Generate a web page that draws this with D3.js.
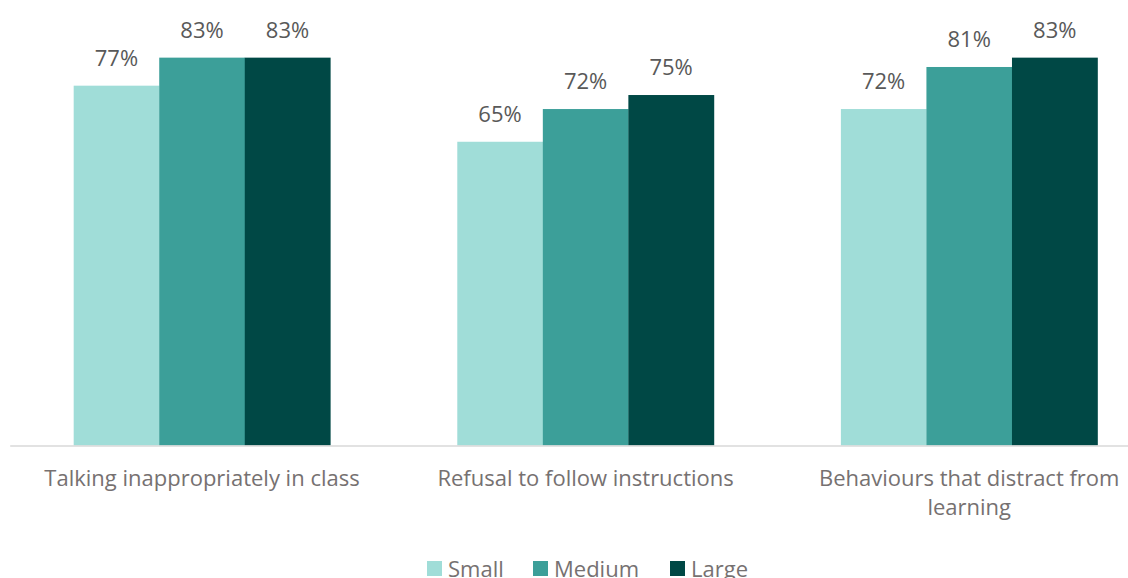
<!DOCTYPE html>
<html>
<head>
<meta charset="utf-8">
<script src="https://cdn.jsdelivr.net/npm/d3@7"></script>
<style>
  html, body { margin: 0; padding: 0; background: #fff; overflow: hidden; }
  svg { display: block; }
  text { font-family: "Open Sans", Lato, sans-serif; }
</style>
</head>
<body>
<svg id="chart" width="1128" height="578"></svg>
<script>
// Share of schools reporting each behaviour, by school size
const categories = [
  ["Talking inappropriately in class"],
  ["Refusal to follow instructions"],
  ["Behaviours that distract from", "learning"]
];
const seriesNames = ["Small", "Medium", "Large"];
const small  = [77, 65, 72];
const medium = [83, 72, 81];
const large  = [83, 75, 83];
const colors = ["#a0ddd8", "#3c9f99", "#004845"];

const svg = d3.select("#chart");
const baseY = 445.5;
const catKeys = categories.map(c => c.join(" "));
const values = [small, medium, large];

const x0 = d3.scaleBand()
  .domain(catKeys)
  .range([10.2, 1161])
  .paddingInner(0.331)
  .paddingOuter(0.1655);

const x1 = d3.scaleBand()
  .domain(seriesNames)
  .range([0, x0.bandwidth()]);

const y = d3.scaleLinear()
  .domain([0, 100])
  .range([baseY, baseY - 467.3]);

// Bars
const groups = svg.append("g").selectAll("g")
  .data(catKeys)
  .join("g")
  .attr("transform", d => `translate(${x0(d)},0)`);

groups.selectAll("rect")
  .data((d, i) => seriesNames.map((s, j) => ({ s, v: values[j][i], j })))
  .join("rect")
  .attr("x", d => x1(d.s))
  .attr("width", x1.bandwidth() + 0.3)
  .attr("y", d => y(d.v))
  .attr("height", d => y(0) - y(d.v))
  .attr("fill", d => colors[d.j]);

// Value labels
groups.selectAll("text.val")
  .data((d, i) => seriesNames.map((s, j) => ({ s, v: values[j][i] })))
  .join("text")
  .attr("class", "val")
  .attr("x", d => x1(d.s) + x1.bandwidth() / 2)
  .attr("y", d => y(d.v) - 20)
  .attr("text-anchor", "middle")
  .attr("font-size", 22)
  .attr("fill", "#595959")
  .text(d => d.v + "%");

// Category axis line
svg.append("line")
  .attr("x1", 10.2).attr("x2", 1161)
  .attr("y1", baseY + 0.5).attr("y2", baseY + 0.5)
  .attr("stroke", "#d9d9d9")
  .attr("stroke-width", 1.5);

// Category labels
const catLabels = svg.append("g").selectAll("text")
  .data(categories)
  .join("text")
  .attr("x", (d, i) => x0(catKeys[i]) + x0.bandwidth() / 2)
  .attr("y", 486)
  .attr("text-anchor", "middle")
  .attr("font-size", 22)
  .attr("fill", "#767171");

catLabels.selectAll("tspan")
  .data((d, i) => d.map(line => ({ line, cx: x0(catKeys[i]) + x0.bandwidth() / 2 })))
  .join("tspan")
  .attr("x", d => d.cx)
  .attr("dy", (d, k) => k === 0 ? 0 : 29)
  .text(d => d.line);

// Legend
const legendX = [427, 533, 670];
const legend = svg.append("g").selectAll("g")
  .data(seriesNames)
  .join("g")
  .attr("transform", (d, i) => `translate(${legendX[i]},561)`);

legend.append("rect")
  .attr("width", 15).attr("height", 15)
  .attr("fill", (d, i) => colors[i]);

legend.append("text")
  .attr("x", 21)
  .attr("y", 16)
  .attr("font-size", 22)
  .attr("fill", "#767171")
  .text(d => d);
</script>
</body>
</html>
